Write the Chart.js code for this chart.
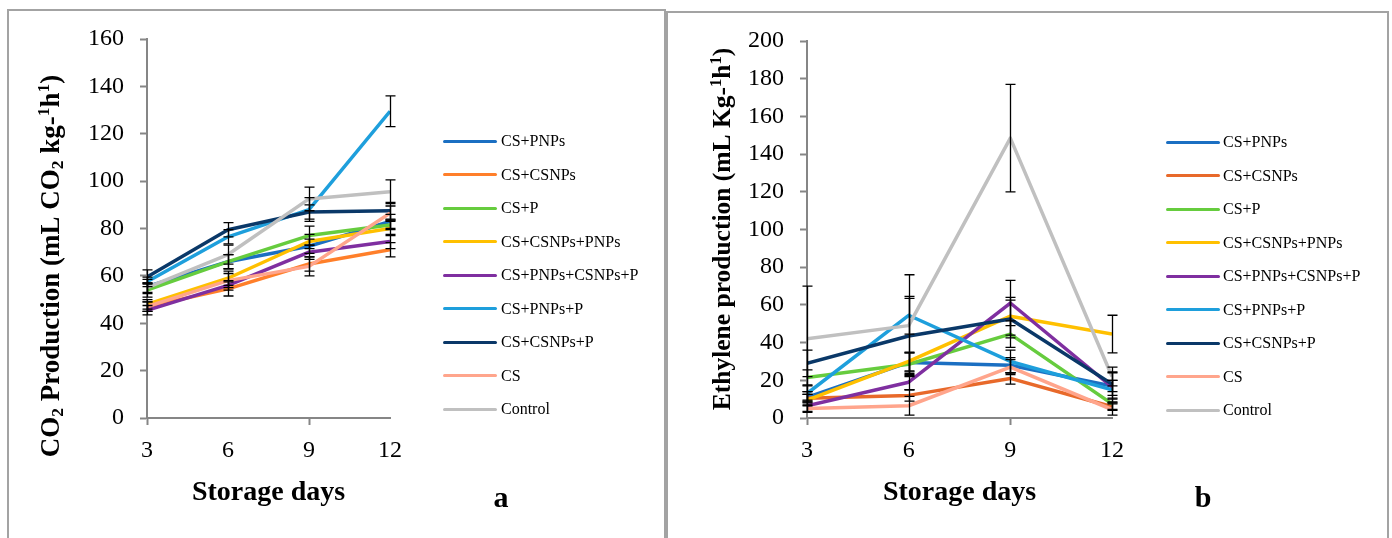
<!DOCTYPE html>
<html><head><meta charset="utf-8">
<script src="https://cdn.jsdelivr.net/npm/chart.js@4.4.1/dist/chart.umd.min.js"></script>
<style>
html,body{margin:0;padding:0;background:#fff;}
body{width:1392px;height:538px;position:relative;overflow:hidden;font-family:'Liberation Serif','Times New Roman',serif;}
.panel{position:absolute;border:2px solid #a3a3a3;box-sizing:border-box;}
canvas{position:absolute;top:0;}
.legend{position:absolute;top:0;left:0;}
.li{position:absolute;height:20px;width:200px;}
.li .sw{position:absolute;left:0;top:8.5px;width:54px;height:3px;border-radius:1.5px;}
.li .tx{position:absolute;top:0;font-size:16px;line-height:20px;color:#000;white-space:nowrap;}
</style></head>
<body>
<div class="panel" style="left:7px;top:9px;width:659px;height:560px;"></div>
<div class="panel" style="left:666px;top:11px;width:723px;height:560px;"></div>
<canvas id="cA" width="665" height="538" style="left:0"></canvas>
<canvas id="cB" width="722" height="538" style="left:668px"></canvas>
<div id="legA" class="legend"></div>
<div id="legB" class="legend"></div>
<script>
// ---------- data ----------
const days = [3, 6, 9, 12];
const seriesNames = ['CS+PNPs','CS+CSNPs','CS+P','CS+CSNPs+PNPs','CS+PNPs+CSNPs+P','CS+PNPs+P','CS+CSNPs+P','CS','Control'];
const co2Ticks = [0,20,40,60,80,100,120,140,160];
const ethTicks = [0,20,40,60,80,100,120,140,160,180,200];

// CO2 production (panel a)
const co2_CS_PNPs        = [55.5, 66.0, 72.5, 83.0];
const co2_CS_CSNPs       = [47.0, 54.5, 65.0, 71.0];
const co2_CS_P           = [54.0, 66.0, 77.0, 81.5];
const co2_CS_CSNPs_PNPs  = [48.0, 59.0, 74.5, 80.0];
const co2_CS_PNPs_CSNPs_P= [45.5, 56.0, 70.0, 74.5];
const co2_CS_PNPs_P      = [57.5, 76.5, 88.0, 129.5];
const co2_CS_CSNPs_P     = [59.5, 79.5, 87.0, 87.5];
const co2_CS             = [47.0, 58.0, 64.0, 86.5];
const co2_Control        = [55.0, 69.0, 92.5, 95.5];

const co2Err_CS_PNPs        = [3, 3, 3, 3];
const co2Err_CS_CSNPs       = [2, 3, 3, 3];
const co2Err_CS_P           = [3, 3, 4, 2];
const co2Err_CS_CSNPs_PNPs  = [2, 3, 3, 3];
const co2Err_CS_PNPs_CSNPs_P= [2, 2, 3, 3];
const co2Err_CS_PNPs_P      = [2, 3, 5, 6.5];
const co2Err_CS_CSNPs_P     = [3, 3, 3, 3.5];
const co2Err_CS             = [2, 3, 4, 3];
const co2Err_Control        = [2, 4, 5, 5];

// Ethylene production (panel b)
const eth_CS_PNPs        = [11.0, 29.5, 28.0, 17.0];
const eth_CS_CSNPs       = [10.5, 12.0, 21.0, 6.0];
const eth_CS_P           = [21.5, 28.5, 44.5, 7.5];
const eth_CS_CSNPs_PNPs  = [9.5, 30.0, 54.0, 44.5];
const eth_CS_PNPs_CSNPs_P= [6.5, 19.0, 61.0, 16.5];
const eth_CS_PNPs_P      = [13.0, 54.5, 30.0, 15.0];
const eth_CS_CSNPs_P     = [29.0, 43.5, 52.5, 18.0];
const eth_CS             = [5.0, 6.5, 27.0, 4.5];
const eth_Control        = [42.0, 49.0, 148.5, 22.0];

const ethErr_CS_PNPs        = [3, 5, 4, 3];
const ethErr_CS_CSNPs       = [2, 3, 3, 2];
const ethErr_CS_P           = [4, 6, 7, 3];
const ethErr_CS_CSNPs_PNPs  = [3, 5, 10, 10];
const ethErr_CS_PNPs_CSNPs_P= [3, 4, 12, 8];
const ethErr_CS_PNPs_P      = [4, 10, 6, 5];
const ethErr_CS_CSNPs_P     = [7, 20, 10, 6];
const ethErr_CS             = [2, 5, 4, 3];
const ethErr_Control        = [28, 27, 28.5, 5];

const co2Values = [co2_CS_PNPs, co2_CS_CSNPs, co2_CS_P, co2_CS_CSNPs_PNPs, co2_CS_PNPs_CSNPs_P, co2_CS_PNPs_P, co2_CS_CSNPs_P, co2_CS, co2_Control];
const co2Errors = [co2Err_CS_PNPs, co2Err_CS_CSNPs, co2Err_CS_P, co2Err_CS_CSNPs_PNPs, co2Err_CS_PNPs_CSNPs_P, co2Err_CS_PNPs_P, co2Err_CS_CSNPs_P, co2Err_CS, co2Err_Control];
const ethValues = [eth_CS_PNPs, eth_CS_CSNPs, eth_CS_P, eth_CS_CSNPs_PNPs, eth_CS_PNPs_CSNPs_P, eth_CS_PNPs_P, eth_CS_CSNPs_P, eth_CS, eth_Control];
const ethErrors = [ethErr_CS_PNPs, ethErr_CS_CSNPs, ethErr_CS_P, ethErr_CS_CSNPs_PNPs, ethErr_CS_PNPs_CSNPs_P, ethErr_CS_PNPs_P, ethErr_CS_CSNPs_P, ethErr_CS, ethErr_Control];

// ---------- styles ----------
const colorsA = ['#1B6FC2','#FF7F2A','#66CC3E','#FFC000','#7F2FA0','#1E9FDC','#0A3868','#FFA58C','#C0C0C0'];
const colorsB = ['#1B6FC2','#E8692A','#66CC3E','#FFC000','#7F2FA0','#1E9FDC','#0A3868','#FFA58C','#C0C0C0'];
const FONT = "'Liberation Serif','Times New Roman',serif";
const AXIS = '#868686';

const errorBars = {
  id: 'errorBars',
  afterDatasetsDraw(chart, args, opts) {
    const ctx = chart.ctx, xs = chart.scales.x, ys = chart.scales.y;
    ctx.save();
    ctx.strokeStyle = '#000';
    ctx.lineWidth = 1.3;
    chart.data.datasets.forEach((ds, i) => {
      const errs = opts.errors[i];
      ds.data.forEach((v, j) => {
        const x = Math.round(xs.getPixelForValue(days[j])) + 0.5;
        const y1 = ys.getPixelForValue(v + errs[j]);
        const y2 = ys.getPixelForValue(Math.max(0, v - errs[j]));
        ctx.beginPath();
        ctx.moveTo(x, y1); ctx.lineTo(x, y2);
        ctx.moveTo(x - 5, y1); ctx.lineTo(x + 5, y1);
        ctx.moveTo(x - 5, y2); ctx.lineTo(x + 5, y2);
        ctx.stroke();
      });
    });
    ctx.restore();
  }
};

const panelText = {
  id: 'panelText',
  afterDraw(chart, args, o) {
    const ctx = chart.ctx;
    ctx.save();
    ctx.fillStyle = '#000';
    ctx.textBaseline = 'alphabetic';
    ctx.textAlign = 'left';
    // rotated y title with sub/superscripts
    ctx.save();
    ctx.translate(o.yTitleX, o.yTitleY);
    ctx.rotate(-Math.PI / 2);
    const fs = o.yTitleSize;
    let total = 0;
    o.yTitle.forEach(s => {
      ctx.font = 'bold ' + (s.v ? fs * 0.65 : fs) + 'px ' + FONT;
      s.w = ctx.measureText(s.t).width; total += s.w;
    });
    let x = -total / 2;
    o.yTitle.forEach(s => {
      ctx.font = 'bold ' + (s.v ? fs * 0.65 : fs) + 'px ' + FONT;
      const dy = s.v === 'sub' ? fs * 0.16 : (s.v === 'sup' ? -fs * 0.36 : 0);
      ctx.fillText(s.t, x, dy);
      x += s.w;
    });
    ctx.restore();
    // x title
    const ca = chart.chartArea;
    ctx.font = 'bold ' + o.xTitleSize + 'px ' + FONT;
    ctx.textAlign = 'center';
    ctx.fillText(o.xTitle, (ca.left + ca.right) / 2, o.xTitleY);
    // panel letter
    ctx.font = 'bold ' + o.letterSize + 'px ' + FONT;
    ctx.fillText(o.letter, o.letterX, o.letterY);
    ctx.restore();
  }
};

function makeChart(id, values, errors, colors, tickVals, c) {
  return new Chart(document.getElementById(id), {
    type: 'line',
    data: {
      labels: days,
      datasets: seriesNames.map((n, i) => ({
        label: n, data: values[i], borderColor: colors[i], backgroundColor: colors[i],
        borderWidth: 3.5, pointRadius: 0, pointHoverRadius: 0, tension: 0, fill: false,
        order: seriesNames.length - i, borderJoinStyle: 'round'
      }))
    },
    options: {
      responsive: false, animation: false, devicePixelRatio: 1,
      events: [],
      layout: { padding: { left: 0, right: c.padRight, top: c.padTop, bottom: 0 } },
      plugins: {
        legend: { display: false }, tooltip: { enabled: false },
        errorBars: { errors: errors },
        panelText: c.text
      },
      scales: {
        x: {
          type: 'linear', min: days[0], max: days[days.length - 1],
          afterFit: s => { s.height = 538 - c.bottom; },
          afterBuildTicks: s => { s.ticks = days.map(v => ({ value: v })); },
          ticks: { font: { family: FONT, size: 24 }, color: '#000', padding: 11 },
          grid: { drawOnChartArea: false, drawTicks: true, tickLength: 7, tickWidth: 2,
                  tickColor: ctx => (ctx.tick && (ctx.tick.value === 3 || ctx.tick.value === 9)) ? AXIS : 'rgba(0,0,0,0)' },
          border: { display: true, color: AXIS, width: 2 }
        },
        y: {
          min: tickVals[0], max: tickVals[tickVals.length - 1],
          afterFit: s => { s.width = c.yWidth; },
          afterBuildTicks: s => { s.ticks = tickVals.map(v => ({ value: v })); },
          ticks: { font: { family: FONT, size: 24 }, color: '#000', padding: 16 },
          grid: { drawOnChartArea: false, drawTicks: true, tickLength: 7, tickWidth: 2, tickColor: AXIS },
          border: { display: true, color: AXIS, width: 2 }
        }
      }
    },
    plugins: [errorBars, panelText]
  });
}

makeChart('cA', co2Values, co2Errors, colorsA, co2Ticks, {
  padRight: 665 - 390, padTop: 39, yWidth: 147, bottom: 418,
  text: {
    yTitleX: 59, yTitleY: 266, yTitleSize: 27,
    yTitle: [{t:'CO'},{t:'2',v:'sub'},{t:' Production (mL CO'},{t:'2',v:'sub'},{t:' kg-'},{t:'1',v:'sup'},{t:'h'},{t:'1',v:'sup'},{t:')'}],
    xTitle: 'Storage days', xTitleSize: 28, xTitleY: 500,
    letter: 'a', letterSize: 30, letterX: 501, letterY: 507
  }
});

makeChart('cB', ethValues, ethErrors, colorsB, ethTicks, {
  padRight: 722 - 444, padTop: 41, yWidth: 139, bottom: 418,
  text: {
    yTitleX: 62, yTitleY: 229, yTitleSize: 25.5,
    yTitle: [{t:'Ethylene production (mL Kg-'},{t:'1',v:'sup'},{t:'h'},{t:'1',v:'sup'},{t:')'}],
    xTitle: 'Storage days', xTitleSize: 28, xTitleY: 500,
    letter: 'b', letterSize: 30, letterX: 535, letterY: 507
  }
});

// ---------- legends (HTML) ----------
function buildLegend(elId, colors, lineX, textX, firstY, step) {
  const el = document.getElementById(elId);
  seriesNames.forEach((n, i) => {
    const d = document.createElement('div');
    d.className = 'li';
    d.style.left = lineX + 'px';
    d.style.top = (firstY + i * step - 10) + 'px';
    d.innerHTML = '<div class="sw" style="background:' + colors[i] + '"></div><div class="tx" style="left:' + (textX - lineX) + 'px">' + n + '</div>';
    el.appendChild(d);
  });
}
buildLegend('legA', colorsA, 443, 501, 141, 33.5);
buildLegend('legB', colorsB, 1166, 1223, 142.3, 33.5);
</script>
</body></html>
